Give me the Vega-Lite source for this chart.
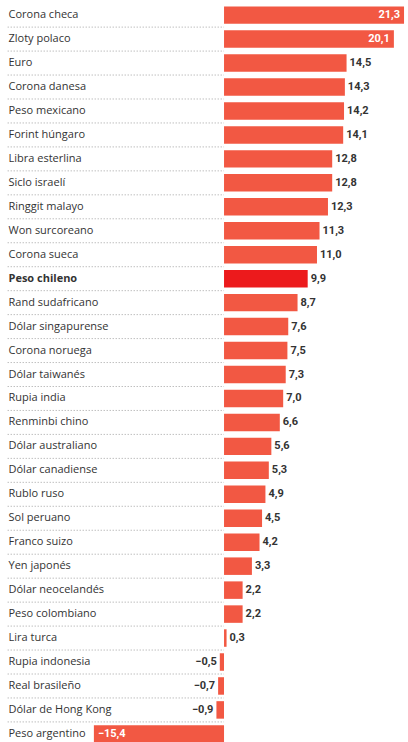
{
  "$schema": "https://vega.github.io/schema/vega-lite/v6.json",
  "width": 408,
  "height": 742,
  "autosize": {"type": "none"},
  "padding": {"top": 3.5, "bottom": 0, "left": 0, "right": 0},
  "background": "#ffffff",
  "config": {
    "view": {"stroke": null},
    "text": {"font": "Roboto", "fontSize": 11, "fontWeight": "bold", "baseline": "middle"}
  },
  "data": {
    "values": [
      {"moneda": "Corona checa", "v": 21.3},
      {"moneda": "Zloty polaco", "v": 20.1},
      {"moneda": "Euro", "v": 14.5},
      {"moneda": "Corona danesa", "v": 14.3},
      {"moneda": "Peso mexicano", "v": 14.2},
      {"moneda": "Forint húngaro", "v": 14.1},
      {"moneda": "Libra esterlina", "v": 12.8},
      {"moneda": "Siclo israelí", "v": 12.8},
      {"moneda": "Ringgit malayo", "v": 12.3},
      {"moneda": "Won surcoreano", "v": 11.3},
      {"moneda": "Corona sueca", "v": 11.0},
      {"moneda": "Peso chileno", "v": 9.9},
      {"moneda": "Rand sudafricano", "v": 8.7},
      {"moneda": "Dólar singapurense", "v": 7.6},
      {"moneda": "Corona noruega", "v": 7.5},
      {"moneda": "Dólar taiwanés", "v": 7.3},
      {"moneda": "Rupia india", "v": 7.0},
      {"moneda": "Renminbi chino", "v": 6.6},
      {"moneda": "Dólar australiano", "v": 5.6},
      {"moneda": "Dólar canadiense", "v": 5.3},
      {"moneda": "Rublo ruso", "v": 4.9},
      {"moneda": "Sol peruano", "v": 4.5},
      {"moneda": "Franco suizo", "v": 4.2},
      {"moneda": "Yen japonés", "v": 3.3},
      {"moneda": "Dólar neocelandés", "v": 2.2},
      {"moneda": "Peso colombiano", "v": 2.2},
      {"moneda": "Lira turca", "v": 0.3},
      {"moneda": "Rupia indonesia", "v": -0.5},
      {"moneda": "Real brasileño", "v": -0.7},
      {"moneda": "Dólar de Hong Kong", "v": -0.9},
      {"moneda": "Peso argentino", "v": -15.4}
    ]
  },
  "transform": [{"calculate": "replace(format(datum.v, '.1f'), '.', ',')", "as": "etiqueta"}],
  "encoding": {
    "y": {
      "field": "moneda",
      "type": "nominal",
      "sort": null,
      "scale": {"paddingInner": 0.27, "paddingOuter": 0.12},
      "axis": {
        "title": null,
        "domain": false,
        "ticks": false,
        "grid": false,
        "labelAlign": "left",
        "labelPadding": -8,
        "labelFont": "Open Sans",
        "labelFontSize": 11,
        "labelColor": "#333333",
        "labelFontWeight": {"condition": {"test": "datum.value == 'Peso chileno'", "value": "bold"}, "value": "normal"}
      }
    }
  },
  "layer": [
    {
      "mark": {"type": "bar"},
      "encoding": {
        "x": {"field": "v", "type": "quantitative", "scale": {"domain": [-26.51, 21.77], "nice": false, "zero": false}, "axis": null},
        "color": {"condition": {"test": "datum.moneda == 'Peso chileno'", "value": "#ec1a1c"}, "value": "#f25843"}
      }
    },
    {
      "mark": {"type": "rule", "strokeDash": [1, 2], "color": "#8a8a8a", "strokeWidth": 0.8, "yOffset": 12},
      "encoding": {
        "x": {"datum": -25.6},
        "x2": {"datum": 0}
      }
    },
    {
      "transform": [{"filter": "datum.v > 0 && datum.v < 18"}],
      "mark": {"type": "text", "align": "left", "dx": 3, "color": "#333333"},
      "encoding": {"x": {"field": "v", "type": "quantitative"}, "text": {"field": "etiqueta"}}
    },
    {
      "transform": [{"filter": "datum.v >= 18"}],
      "mark": {"type": "text", "align": "right", "dx": -4, "color": "#ffffff"},
      "encoding": {"x": {"field": "v", "type": "quantitative"}, "text": {"field": "etiqueta"}}
    },
    {
      "transform": [{"filter": "datum.v < 0 && datum.v > -10"}],
      "mark": {"type": "text", "align": "right", "dx": -3, "color": "#333333"},
      "encoding": {"x": {"field": "v", "type": "quantitative"}, "text": {"field": "etiqueta"}}
    },
    {
      "transform": [{"filter": "datum.v <= -10"}],
      "mark": {"type": "text", "align": "left", "dx": 4, "color": "#ffffff"},
      "encoding": {"x": {"field": "v", "type": "quantitative"}, "text": {"field": "etiqueta"}}
    }
  ]
}
